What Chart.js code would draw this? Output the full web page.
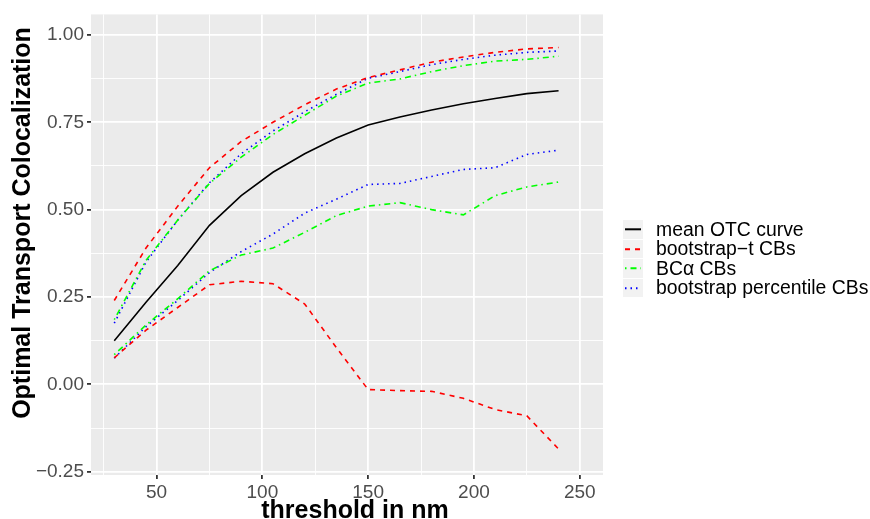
<!DOCTYPE html>
<html>
<head>
<meta charset="utf-8">
<script src="https://cdn.jsdelivr.net/npm/chart.js@4/dist/chart.umd.min.js"></script>
<style>
  body { margin: 0; background: #fff; }
  #wrap { position: relative; width: 870px; height: 519px; overflow: hidden; }
  #legend { position: absolute; left: 623px; top: 219.5px; font-family: "Liberation Sans", Arial, sans-serif; font-size: 19.4px; color: #000; }
  .row { position: relative; height: 19.6px; }
  .key { position: absolute; left: 0; top: 0.5px; width: 20px; height: 18.6px; background: #F2F2F2; }
  .lab { position: absolute; left: 33px; top: 0; line-height: 19.6px; white-space: nowrap; }
</style>
</head>
<body>
<div id="wrap">
  <canvas id="otc" width="870" height="519"></canvas>
  <div id="legend"></div>
</div>
<script>
// thresholds (nm) and curve values
const thresholds = [30, 45, 60, 75, 90, 105, 120, 135, 150, 165, 180, 195, 210, 225, 240]
const meanOtc    = [0.125, 0.235, 0.34, 0.455, 0.54, 0.607, 0.66, 0.705, 0.742, 0.765, 0.785, 0.803, 0.818, 0.832, 0.840]
const bootTUpper = [0.24, 0.39, 0.51, 0.62, 0.695, 0.75, 0.80, 0.845, 0.878, 0.90, 0.922, 0.937, 0.95, 0.96, 0.964]
const bootTLower = [0.076, 0.155, 0.22, 0.285, 0.295, 0.288, 0.23, 0.105, -0.015, -0.018, -0.02, -0.04, -0.072, -0.09, -0.185]
const bcaUpper   = [0.185, 0.355, 0.47, 0.575, 0.65, 0.715, 0.77, 0.825, 0.862, 0.874, 0.895, 0.912, 0.925, 0.93, 0.939]
const bcaLower   = [0.085, 0.17, 0.245, 0.325, 0.37, 0.39, 0.435, 0.483, 0.51, 0.52, 0.50, 0.485, 0.54, 0.565, 0.579]
const pctUpper   = [0.175, 0.35, 0.47, 0.577, 0.66, 0.725, 0.78, 0.83, 0.876, 0.895, 0.915, 0.93, 0.942, 0.95, 0.954]
const pctLower   = [0.075, 0.165, 0.24, 0.32, 0.38, 0.43, 0.49, 0.53, 0.572, 0.575, 0.595, 0.615, 0.62, 0.658, 0.67]

const xTicks = [25, 50, 75, 100, 125, 150, 175, 200, 225, 250]
const yTicks = [-0.25, -0.125, 0, 0.125, 0.25, 0.375, 0.5, 0.625, 0.75, 0.875, 1.0]

const legendItems = [
    { label: 'mean OTC curve', color: '#000000', dash: [] },
    { label: 'bootstrap\u2212t CBs', color: '#FF0000', dash: [5, 5] },
    { label: 'BC\u03b1 CBs', color: '#00FF00', dash: [1.5, 4, 6, 4] },
    { label: 'bootstrap percentile CBs', color: '#0000FF', dash: [1.5, 4] }
]

const pts = ys => thresholds.map((x, i) => ({ x: x, y: ys[i] }))

function series(label, ys, item) {
    return {
        label: label,
        data: pts(ys),
        borderColor: item.color,
        borderDash: item.dash,
        borderWidth: 1.6,
        pointRadius: 0,
        tension: 0,
        fill: false
    }
}

const [mean, boot, bca, pct] = legendItems
const datasets = [
    series('mean', meanOtc, mean),
    series('boot-t upper', bootTUpper, boot),
    series('boot-t lower', bootTLower, boot),
    series('bca upper', bcaUpper, bca),
    series('bca lower', bcaLower, bca),
    series('pct upper', pctUpper, pct),
    series('pct lower', pctLower, pct)
]

const isMajorX = v => v % 50 === 0
const isMajorY = v => Math.abs(v * 4 - Math.round(v * 4)) < 1e-9

const panel = {
    id: 'panel',
    beforeDraw(chart) {
        const { ctx, chartArea: a } = chart
        ctx.save()
        ctx.fillStyle = '#EBEBEB'
        ctx.fillRect(a.left, a.top, a.right - a.left, a.bottom - a.top)
        ctx.restore()
    },
    afterDraw(chart) {
        const ctx = chart.ctx
        ctx.save()
        ctx.fillStyle = '#000'
        ctx.font = 'bold 25px "Liberation Sans", Arial, sans-serif'
        ctx.textAlign = 'center'
        ctx.textBaseline = 'alphabetic'
        ctx.fillText('threshold in nm', 355, 518)
        ctx.translate(30, 223)
        ctx.rotate(-Math.PI / 2)
        ctx.fillText('Optimal Transport Colocalization', 0, 0)
        ctx.restore()
    }
}

new Chart(document.getElementById('otc'), {
    type: 'line',
    data: { datasets: datasets },
    plugins: [panel],
    options: {
        responsive: false,
        animation: false,
        devicePixelRatio: 1,
        layout: { padding: { left: 0, top: 10, right: 267, bottom: 0 } },
        plugins: { legend: { display: false }, tooltip: { enabled: false } },
        scales: {
            x: {
                type: 'linear',
                min: 19,
                max: 261,
                afterBuildTicks: s => { s.ticks = xTicks.map(v => ({ value: v })) },
                afterFit: s => { s.height = 44 },
                border: { display: false },
                grid: {
                    color: '#FFFFFF',
                    lineWidth: c => isMajorX(c.tick.value) ? 1.8 : 0.9,
                    tickColor: c => isMajorX(c.tick.value) ? '#333333' : 'rgba(0,0,0,0)',
                    tickLength: 4
                },
                ticks: {
                    autoSkip: false,
                    maxRotation: 0,
                    padding: 2,
                    color: '#4D4D4D',
                    font: { family: '"Liberation Sans", Arial, sans-serif', size: 19 },
                    callback: v => isMajorX(v) ? String(v) : ''
                }
            },
            y: {
                min: -0.2594,
                max: 1.0587,
                afterBuildTicks: s => { s.ticks = yTicks.map(v => ({ value: v })) },
                afterFit: s => { s.width = 91 },
                border: { display: false },
                grid: {
                    color: '#FFFFFF',
                    lineWidth: c => isMajorY(c.tick.value) ? 1.8 : 0.9,
                    tickColor: c => isMajorY(c.tick.value) ? '#333333' : 'rgba(0,0,0,0)',
                    tickLength: 4
                },
                ticks: {
                    autoSkip: false,
                    padding: 3,
                    color: '#4D4D4D',
                    font: { family: '"Liberation Sans", Arial, sans-serif', size: 19 },
                    callback: v => isMajorY(v) ? v.toFixed(2).replace('-', '\u2212') : ''
                }
            }
        }
    }
})

// legend keys drawn as small svg lines on grey boxes
const legend = document.getElementById('legend')
legendItems.forEach(it => {
    const row = document.createElement('div')
    row.className = 'row'
    row.innerHTML = '<div class="key"><svg width="20" height="18.6">' +
        '<line x1="2" y1="9.3" x2="18" y2="9.3" stroke="' + it.color + '" stroke-width="2" stroke-dasharray="' +
        (it.dash.length ? it.dash.join(' ') : 'none') + '"/></svg></div>' +
        '<div class="lab">' + it.label + '</div>'
    legend.appendChild(row)
})
</script>
</body>
</html>
